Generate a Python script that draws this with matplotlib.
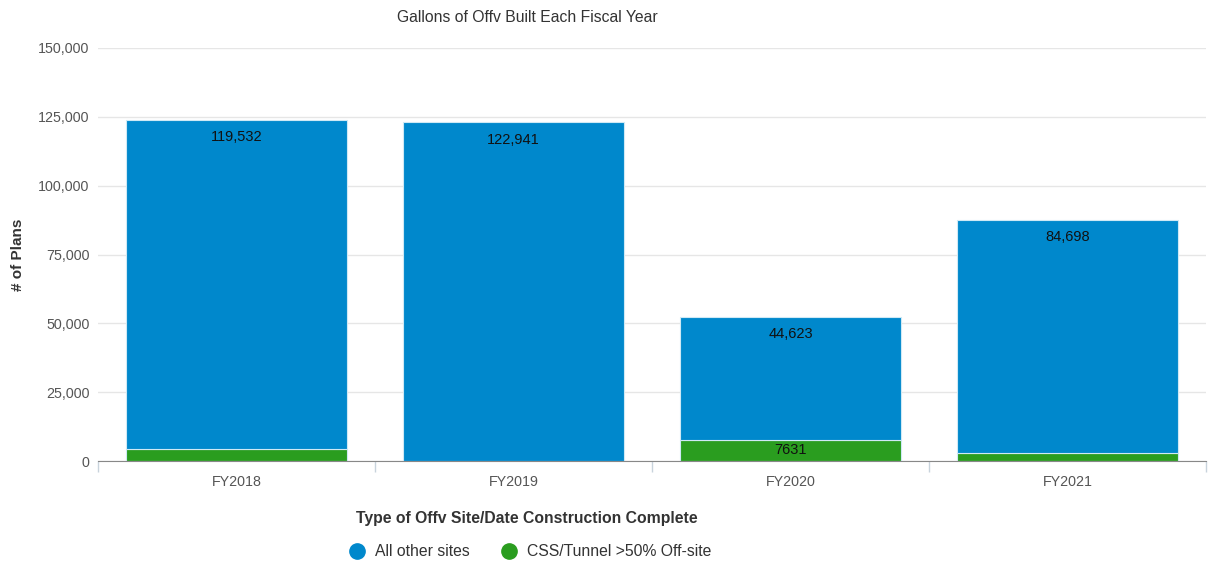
import matplotlib.pyplot as plt
from matplotlib.lines import Line2D
import numpy as np

plt.rcParams["font.family"] = ["Liberation Sans", "DejaVu Sans"]

years = ["FY2018", "FY2019", "FY2020", "FY2021"]
other_sites = [119532, 122941, 44623, 84698]
css_tunnel = [4300, 0, 7631, 3000]
other_labels = ["119,532", "122,941", "44,623", "84,698"]
css_labels = [None, None, "7631", None]
y_ticks = [0, 25000, 50000, 75000, 100000, 125000, 150000]

BLUE = "#0088cc"
GREEN = "#2a9d1f"
GREY = "#555555"

fig = plt.figure(figsize=(12.14, 5.62), dpi=100)
ax = fig.add_axes([0.0807, 0.1797, 0.9127, 0.7349])

x = np.arange(len(years))
ax.bar(x, css_tunnel, width=0.8, color=GREEN, edgecolor="#cfe9f5", linewidth=0.8, zorder=3)
ax.bar(x, other_sites, width=0.8, bottom=css_tunnel, color=BLUE, edgecolor="#cfe9f5",
       linewidth=0.8, zorder=3)

for i in range(len(years)):
    top = css_tunnel[i] + other_sites[i]
    ax.text(x[i], top - 6300, other_labels[i], ha="center", va="center", fontsize=10.5,
            color="#111111", zorder=4)
    if css_labels[i]:
        ax.text(x[i], css_tunnel[i] / 2 + 200, css_labels[i], ha="center", va="center",
                fontsize=10.5, color="#111111", zorder=4)

ax.set_xlim(-0.5, len(years) - 0.5)
ax.set_ylim(0, 150000)
ax.set_yticks(y_ticks)
ax.set_yticklabels([f"{v:,}" for v in y_ticks])
ax.yaxis.grid(True, color="#e6e6e6", linewidth=1, zorder=0)
ax.tick_params(axis="y", length=0, pad=6, labelsize=10.3, labelcolor=GREY)

ax.set_xticks(x)
ax.set_xticklabels(years)
ax.set_xticks(np.arange(-0.5, len(years)), minor=True)
ax.tick_params(axis="x", which="major", length=0, pad=10, labelsize=10.3, labelcolor=GREY)
ax.tick_params(axis="x", which="minor", length=8, color="#c8d3dc", width=1)

for side in ["left", "right", "top"]:
    ax.spines[side].set_visible(False)
ax.spines["bottom"].set_color("#888888")
ax.spines["bottom"].set_zorder(4)

fig.text(0.434, 0.969, "Gallons of Offv Built Each Fiscal Year", ha="center", va="center",
         fontsize=11.3, color="#333333")
fig.text(0.015, 0.546, "# of Plans", ha="center", va="center", rotation=90,
         fontsize=11, fontweight="bold", color="#333333")
fig.text(0.434, 0.078, "Type of Offv Site/Date Construction Complete", ha="center",
         va="center", fontsize=11.3, fontweight="bold", color="#333333")

handles = [
    Line2D([], [], marker="o", linestyle="none", markersize=11, color=BLUE),
    Line2D([], [], marker="o", linestyle="none", markersize=11, color=GREEN),
]
fig.legend(handles, ["All other sites", "CSS/Tunnel >50% Off-site"], loc="center",
           bbox_to_anchor=(0.4335, 0.018), ncol=2, frameon=False, fontsize=11.3,
           handletextpad=0.15, columnspacing=1.45, labelcolor="#333333")

fig.savefig("out.png", dpi=100)
plt.close(fig)
